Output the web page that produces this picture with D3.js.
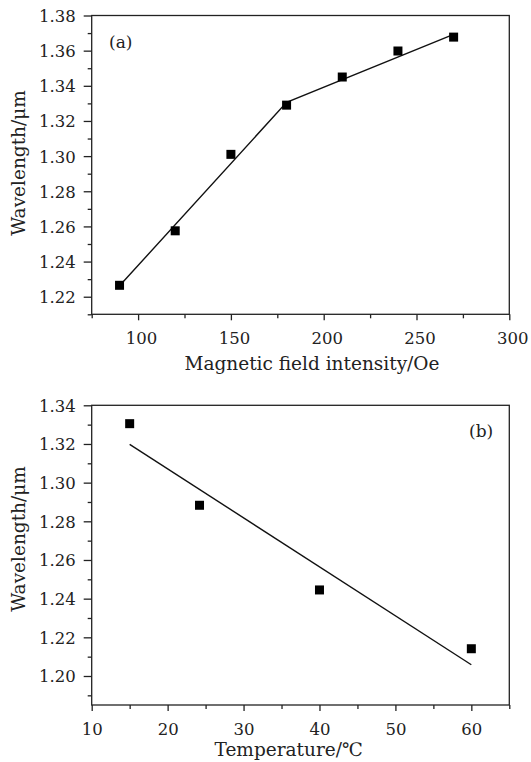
<!DOCTYPE html>
<html><head><meta charset="utf-8">
<script src="https://cdn.jsdelivr.net/npm/d3@7"></script>
<style>
body{margin:0;background:#fff}
text{font-family:"DejaVu Serif",serif;fill:#222}
</style>
</head><body><svg id="c" width="531" height="762"></svg>
<script>
// ---- data ----
const fieldX = [90, 120, 150, 180, 210, 240, 270];
const fieldWavelength = [1.2265, 1.2575, 1.301, 1.329, 1.345, 1.3598, 1.3677];
const fieldFitX = [90, 180, 270];
const fieldFitY = [1.2262, 1.3306, 1.3693];
const tempX = [15, 24.2, 40, 60];
const tempWavelength = [1.3305, 1.2883, 1.2445, 1.2141];
const tempFitX = [15, 60];
const tempFitY = [1.3198, 1.2058];
const fieldTicks = [100, 150, 200, 250, 300];
const fieldMinor = [75, 125, 175, 225, 275];
const tempTicks = [10, 20, 30, 40, 50, 60];
const tempMinor = [15, 25, 35, 45, 55, 65];
const wlTicksA = [1.22, 1.24, 1.26, 1.28, 1.30, 1.32, 1.34, 1.36, 1.38];
const wlMinorA = [1.21, 1.23, 1.25, 1.27, 1.29, 1.31, 1.33, 1.35, 1.37];
const wlTicksB = [1.20, 1.22, 1.24, 1.26, 1.28, 1.30, 1.32, 1.34];
const wlMinorB = [1.19, 1.21, 1.23, 1.25, 1.27, 1.29, 1.31, 1.33];

const svg = d3.select("#c");
const L = 91.7, R = 509.3;
const ink = "#222";

function panel(o) {
  const x = d3.scaleLinear().domain(o.xDomain).range([L, R]);
  const y = d3.scaleLinear().domain(o.yDomain).range([o.bottom, o.top]);
  const g = svg.append("g");

  // minor ticks
  g.append("g").attr("transform", `translate(0,${o.bottom})`)
    .call(d3.axisBottom(x).tickValues(o.xMinor).tickSize(4).tickSizeOuter(0).tickFormat(""))
    .call(s => s.select(".domain").remove());
  g.append("g").attr("transform", `translate(${L},0)`)
    .call(d3.axisLeft(y).tickValues(o.yMinor).tickSize(4).tickSizeOuter(0).tickFormat(""))
    .call(s => s.select(".domain").remove());

  // major ticks
  const xa = g.append("g").attr("transform", `translate(0,${o.bottom})`)
    .call(d3.axisBottom(x).tickValues(o.xTicks).tickSize(6).tickSizeOuter(0).tickFormat(d3.format("d")));
  xa.select(".domain").remove();
  xa.selectAll("text").attr("y", 30).attr("dy", 0).attr("dx", o.xdx)
    .style("font-size", "16.5px").style("font-family", '"DejaVu Serif",serif').attr("fill", ink);
  if (o.hideX) xa.selectAll(".tick text").filter(d => o.hideX.includes(d)).remove();

  const ya = g.append("g").attr("transform", `translate(${L},0)`)
    .call(d3.axisLeft(y).tickValues(o.yTicks).tickSize(8).tickPadding(8).tickSizeOuter(0).tickFormat(d3.format(".2f")));
  ya.select(".domain").remove();
  ya.selectAll("text").attr("dy", "0.36em")
    .style("font-size", "16.5px").style("font-family", '"DejaVu Serif",serif').attr("fill", ink);

  g.selectAll(".tick line").attr("stroke", ink).attr("stroke-width", 1.3);

  // frame
  g.append("rect").attr("x", L).attr("y", o.top).attr("width", R - L).attr("height", o.bottom - o.top)
    .attr("fill", "none").attr("stroke", ink).attr("stroke-width", 1.3);

  // fit line
  const fit = o.fitX.map((v, i) => [v, o.fitY[i]]);
  g.append("path").datum(fit)
    .attr("d", d3.line().x(d => x(d[0])).y(d => y(d[1])))
    .attr("fill", "none").attr("stroke", "#111").attr("stroke-width", 1.4);

  // points
  const s = 9;
  g.selectAll("rect.pt").data(o.px.map((v, i) => [v, o.py[i]])).enter()
    .append("rect").attr("class", "pt")
    .attr("x", d => x(d[0]) - s / 2).attr("y", d => y(d[1]) - s / 2)
    .attr("width", s).attr("height", s).attr("fill", "#000");

  // titles
  g.append("text").attr("x", o.xtX).attr("y", o.xtY).attr("text-anchor", "middle")
    .style("font-size", "18.5px").text(o.xTitle);
  g.append("text").attr("transform", `translate(25,${o.ytY}) rotate(-90)`).attr("text-anchor", "middle")
    .style("font-size", "18.5px").text("Wavelength/\u03bcm");
  g.append("text").attr("x", o.labX).attr("y", o.labY).style("font-size", "17px").text(o.label);
}

panel({
  xDomain: [75, 300], yDomain: [1.21, 1.38], top: 15.5, bottom: 314.3,
  xTicks: fieldTicks, xMinor: fieldMinor, yTicks: wlTicksA, yMinor: wlMinorA, xdx: 3,
  fitX: fieldFitX, fitY: fieldFitY, px: fieldX, py: fieldWavelength,
  xTitle: "Magnetic field intensity/Oe", xtX: 312, xtY: 370, ytY: 163,
  label: "(a)", labX: 109, labY: 48
});

panel({
  xDomain: [10, 65], yDomain: [1.185, 1.34], top: 405.3, bottom: 705,
  xTicks: tempTicks, xMinor: tempMinor, yTicks: wlTicksB, yMinor: wlMinorB, xdx: 0,
  fitX: tempFitX, fitY: tempFitY, px: tempX, py: tempWavelength,
  xTitle: "Temperature/\u2103", xtX: 288.6, xtY: 756, ytY: 539,
  label: "(b)", labX: 469, labY: 437
});
</script>
</body></html>
